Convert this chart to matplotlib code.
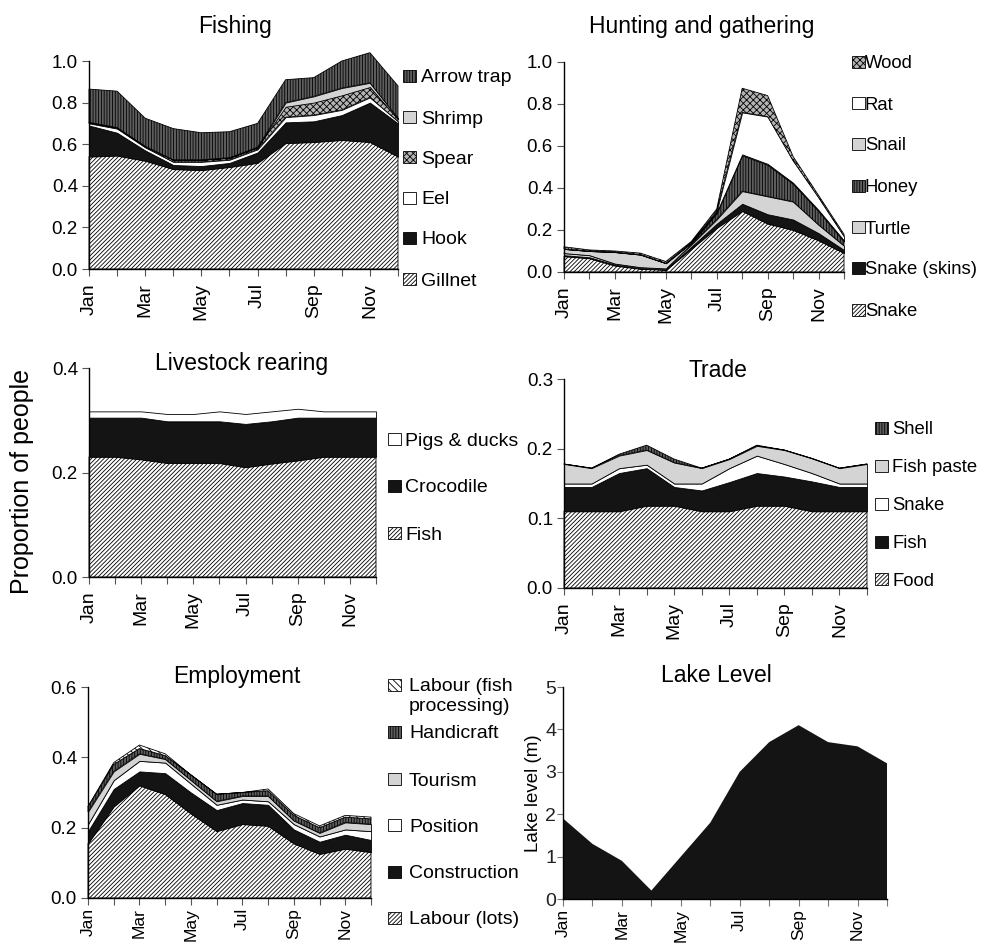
import numpy as np
import matplotlib
matplotlib.use("Agg")
import matplotlib.pyplot as plt
from matplotlib.patches import Rectangle

plt.rcParams['font.family'] = ['Liberation Sans', 'DejaVu Sans']
plt.rcParams['hatch.linewidth'] = 0.6

# ---------------- data ----------------
months = ['Jan', 'Feb', 'Mar', 'Apr', 'May', 'Jun', 'Jul', 'Aug', 'Sep', 'Oct', 'Nov', 'Dec']
month_ticklabels = ['Jan', '', 'Mar', '', 'May', '', 'Jul', '', 'Sep', '', 'Nov', '']

# Fishing (bottom -> top)
fish_labels = ['Gillnet', 'Hook', 'Eel', 'Spear', 'Shrimp', 'Arrow trap']
fish_gillnet = [0.54, 0.545, 0.52, 0.48, 0.475, 0.49, 0.51, 0.605, 0.61, 0.62, 0.61, 0.54]
fish_hook = [0.15, 0.11, 0.05, 0.02, 0.02, 0.02, 0.05, 0.10, 0.10, 0.12, 0.19, 0.16]
fish_eel = [0.01, 0.02, 0.015, 0.015, 0.02, 0.015, 0.015, 0.025, 0.03, 0.025, 0.025, 0.01]
fish_spear = [0.005, 0.005, 0.005, 0.01, 0.01, 0.01, 0.01, 0.05, 0.06, 0.07, 0.05, 0.01]
fish_shrimp = [0, 0, 0, 0, 0, 0, 0, 0.02, 0.03, 0.035, 0.02, 0.005]
fish_arrow = [0.16, 0.175, 0.135, 0.15, 0.13, 0.125, 0.115, 0.11, 0.09, 0.13, 0.145, 0.155]

# Hunting and gathering (bottom -> top)
hunt_labels = ['Snake', 'Snake (skins)', 'Turtle', 'Honey', 'Snail', 'Rat', 'Wood']
hunt_snake = [0.075, 0.065, 0.03, 0.015, 0.01, 0.11, 0.21, 0.29, 0.23, 0.20, 0.15, 0.09]
hunt_skins = [0.005, 0.005, 0.005, 0.003, 0.002, 0.01, 0.02, 0.035, 0.045, 0.05, 0.035, 0.015]
hunt_turtle = [0.01, 0.01, 0.005, 0.005, 0.005, 0.01, 0.02, 0.06, 0.085, 0.085, 0.04, 0.02]
hunt_honey = [0, 0, 0, 0, 0, 0.005, 0.03, 0.17, 0.15, 0.085, 0.065, 0.02]
hunt_snail = [0.02, 0.02, 0.055, 0.06, 0.025, 0.005, 0.005, 0.005, 0.005, 0.005, 0.005, 0.005]
hunt_rat = [0, 0, 0, 0, 0, 0, 0.005, 0.20, 0.225, 0.105, 0.06, 0.02]
hunt_wood = [0.01, 0.005, 0.005, 0.007, 0.008, 0.005, 0.01, 0.115, 0.10, 0.02, 0.01, 0.01]

# Livestock rearing (bottom -> top)
live_labels = ['Fish', 'Crocodile', 'Pigs & ducks']
live_fish = [0.23, 0.23, 0.225, 0.218, 0.218, 0.218, 0.21, 0.217, 0.223, 0.23, 0.23, 0.23]
live_croc = [0.075, 0.075, 0.08, 0.08, 0.08, 0.08, 0.083, 0.081, 0.082, 0.075, 0.075, 0.075]
live_pigs = [0.012, 0.012, 0.012, 0.014, 0.014, 0.019, 0.019, 0.019, 0.017, 0.012, 0.012, 0.012]

# Trade (bottom -> top)
trade_labels = ['Food', 'Fish', 'Snake', 'Fish paste', 'Shell']
trade_food = [0.11, 0.11, 0.11, 0.118, 0.118, 0.11, 0.11, 0.118, 0.118, 0.11, 0.11, 0.11]
trade_fish = [0.035, 0.035, 0.055, 0.054, 0.027, 0.03, 0.042, 0.047, 0.042, 0.043, 0.035, 0.035]
trade_snake = [0.005, 0.005, 0.007, 0.005, 0.005, 0.01, 0.02, 0.025, 0.018, 0.012, 0.005, 0.005]
trade_paste = [0.028, 0.022, 0.018, 0.021, 0.03, 0.022, 0.013, 0.014, 0.02, 0.021, 0.022, 0.028]
trade_shell = [0, 0, 0.002, 0.007, 0.005, 0, 0, 0.001, 0, 0, 0, 0]

# Employment (bottom -> top)
emp_labels = ['Labour (lots)', 'Construction', 'Position', 'Tourism', 'Handicraft',
              'Labour (fish\nprocessing)']
emp_lots = [0.155, 0.26, 0.32, 0.295, 0.24, 0.19, 0.21, 0.205, 0.155, 0.125, 0.14, 0.13]
emp_constr = [0.035, 0.05, 0.04, 0.06, 0.06, 0.06, 0.06, 0.06, 0.04, 0.035, 0.04, 0.035]
emp_position = [0.02, 0.025, 0.03, 0.03, 0.025, 0.015, 0.01, 0.01, 0.015, 0.015, 0.015, 0.025]
emp_tourism = [0.035, 0.025, 0.02, 0.01, 0.01, 0.01, 0.01, 0.015, 0.01, 0.01, 0.02, 0.02]
emp_handicraft = [0.015, 0.02, 0.015, 0.01, 0.015, 0.02, 0.01, 0.015, 0.015, 0.015, 0.015, 0.015]
emp_fishproc = [0, 0.005, 0.01, 0.005, 0, 0, 0, 0.005, 0.005, 0.005, 0.005, 0.005]

# Lake level (m)
lake_level = [1.9, 1.3, 0.9, 0.2, 1.0, 1.8, 3.0, 3.7, 4.1, 3.7, 3.6, 3.2]

# ---------------- styles ----------------
STY = {
    'diag': ('white', '////////'),
    'back': ('white', '\\\\\\\\\\'),
    'black': ('#141414', None),
    'white': ('white', None),
    'dots': ('#d4d4d4', None),
    'cross': ('#b4b4b4', 'xxxxx'),
    'vert': ('#5e5e5e', '||||||'),
}

W, H = 982, 944
fig = plt.figure(figsize=(W / 100, H / 100), dpi=100)


def fx(px):
    return px / W


def fy(py):
    return 1 - py / H


def make_axes(l, t, r, b):
    return fig.add_axes([fx(l), fy(b), fx(r) - fx(l), fy(t) - fy(b)])


def style_axes(ax, ylim, yticks, yfmt, tsize=13.5, msize=14, tickcol='#555555', xpad=5):
    x = np.arange(12)
    ax.set_xlim(0, 11)
    ax.set_ylim(*ylim)
    ax.set_xticks(x)
    ax.set_xticklabels(month_ticklabels, rotation=90, fontsize=msize)
    ax.set_yticks(yticks)
    ax.set_yticklabels([yfmt.format(v) for v in yticks], fontsize=tsize)
    for s in ['top', 'right']:
        ax.spines[s].set_visible(False)
    for s in ['left', 'bottom']:
        ax.spines[s].set_linewidth(1.0)
        ax.spines[s].set_color('black')
    ax.tick_params(axis='both', direction='out', length=5, width=0.8, color=tickcol)
    ax.tick_params(axis='x', pad=xpad)
    ax.tick_params(axis='y', pad=3)
    ax.patch.set_visible(False)


def stack(ax, series, styles):
    x = np.arange(12)
    cols = [STY[s][0] for s in styles]
    hatches = [STY[s][1] for s in styles]
    polys = ax.stackplot(x, *series, colors=cols, hatch=hatches,
                         edgecolor='black', linewidth=0.6)
    for p in polys:
        p.set_clip_on(False)
    return polys


def legend_at(box_x, text_x, ys, labels, styles, size=14, box_w=13, box_h=12,
              linespacing=1.0):
    for y, lab, st in zip(ys, labels, styles):
        fc, ht = STY[st]
        rect = Rectangle((fx(box_x), fy(y + box_h / 2)), box_w / W, box_h / H,
                         transform=fig.transFigure, facecolor=fc, hatch=ht,
                         edgecolor='black', linewidth=0.6)
        fig.add_artist(rect)
        if '\n' in lab:
            fig.text(fx(text_x), fy(y - 7), lab, fontsize=size, ha='left', va='top',
                     linespacing=linespacing)
        else:
            fig.text(fx(text_x), fy(y), lab, fontsize=size, ha='left', va='center_baseline')


def title_at(cx, base_y, text, size=16.5):
    fig.text(fx(cx), fy(base_y), text, fontsize=size, ha='center', va='baseline')


# ---------------- Fishing ----------------
ax1 = make_axes(89, 61, 398, 269)
fish_styles = ['diag', 'black', 'white', 'cross', 'dots', 'vert']
stack(ax1, [fish_gillnet, fish_hook, fish_eel, fish_spear, fish_shrimp, fish_arrow], fish_styles)
style_axes(ax1, (0, 1.0), [0, 0.2, 0.4, 0.6, 0.8, 1.0], '{:.1f}')
title_at(235, 33, 'Fishing')
legend_at(403, 421, [76, 117, 157, 198, 238, 279], fish_labels[::-1], fish_styles[::-1])

# ---------------- Hunting ----------------
ax2 = make_axes(564, 62, 844, 272)
hunt_styles = ['diag', 'black', 'dots', 'vert', 'dots', 'white', 'cross']
stack(ax2, [hunt_snake, hunt_skins, hunt_turtle, hunt_honey, hunt_snail, hunt_rat, hunt_wood],
      hunt_styles)
style_axes(ax2, (0, 1.0), [0, 0.2, 0.4, 0.6, 0.8, 1.0], '{:.1f}')
title_at(702, 33, 'Hunting and gathering')
legend_at(852, 865, [62, 103, 144, 186, 227, 268, 310], hunt_labels[::-1], hunt_styles[::-1],
          size=13.3)

# ---------------- Livestock ----------------
ax3 = make_axes(89, 368, 376, 577)
live_styles = ['diag', 'black', 'white']
stack(ax3, [live_fish, live_croc, live_pigs], live_styles)
style_axes(ax3, (0, 0.4), [0, 0.2, 0.4], '{:.1f}')
title_at(242, 370, 'Livestock rearing')
legend_at(388, 405, [439, 486, 533], live_labels[::-1], live_styles[::-1])

# ---------------- Trade ----------------
ax4 = make_axes(564, 379, 867, 588)
trade_styles = ['diag', 'black', 'white', 'dots', 'vert']
stack(ax4, [trade_food, trade_fish, trade_snake, trade_paste, trade_shell], trade_styles)
style_axes(ax4, (0, 0.3), [0, 0.1, 0.2, 0.3], '{:.1f}')
title_at(718, 377, 'Trade')
legend_at(875, 892, [428, 466, 504, 542, 579], trade_labels[::-1], trade_styles[::-1],
          size=13.3)

# ---------------- Employment ----------------
ax5 = make_axes(88, 687, 371, 898)
emp_styles = ['diag', 'black', 'white', 'dots', 'vert', 'back']
stack(ax5, [emp_lots, emp_constr, emp_position, emp_tourism, emp_handicraft, emp_fishproc],
      emp_styles)
style_axes(ax5, (0, 0.6), [0, 0.2, 0.4, 0.6], '{:.1f}', msize=12.5, xpad=2)
title_at(237, 683, 'Employment')
legend_at(388, 409, [685, 732, 779, 825, 872, 918], emp_labels[::-1], emp_styles[::-1],
          linespacing=1.2)

# ---------------- Lake level ----------------
ax6 = make_axes(563, 687, 887, 899)
ax6.fill_between(np.arange(12), 0, lake_level, facecolor='#141414', edgecolor='none')
style_axes(ax6, (0, 5), [0, 1, 2, 3, 4, 5], '{:.0f}', tsize=14, msize=12.5,
           tickcol='#777777', xpad=2)
ax6.tick_params(axis='y', length=4, pad=1, labelcolor='#222222')
ax6.set_ylabel('Lake level (m)', fontsize=13.5, labelpad=2)
title_at(716, 682, 'Lake Level')

# Shared y label
fig.text(fx(22), fy(481), 'Proportion of people', rotation=90, fontsize=18,
         ha='center', va='center')

fig.savefig('out.png', dpi=100)
